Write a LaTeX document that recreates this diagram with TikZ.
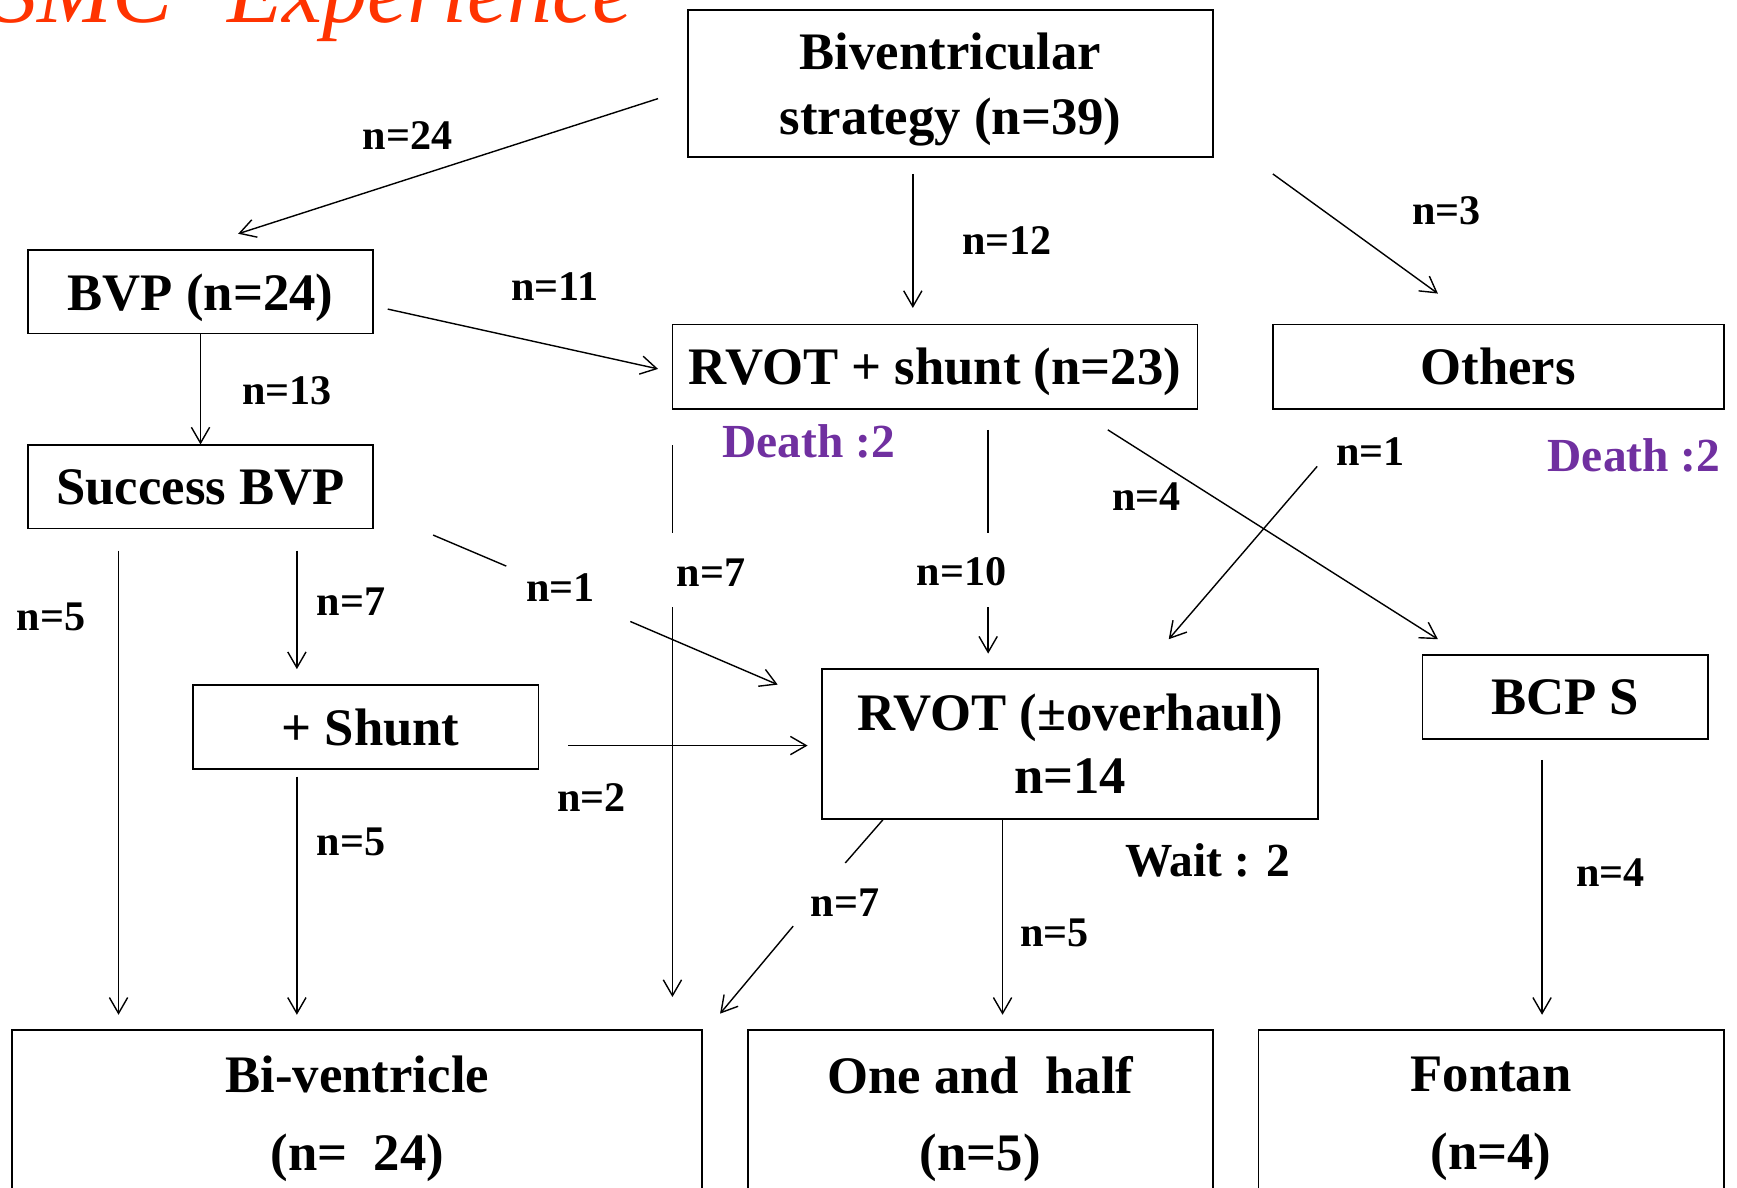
\documentclass[tikz,border=0pt]{standalone}
\usepackage{fontspec}
\setmainfont{Liberation Serif}
\usetikzlibrary{arrows.meta}
\newcommand\pxu{0.011078cm}
\definecolor{deathpurple}{HTML}{7030A0}
\definecolor{titlered}{HTML}{FF3300}
\begin{document}
\begin{tikzpicture}[x=0.011078cm,y=-0.011078cm,
  box/.style={draw, line width=0.5pt, inner sep=0pt, align=center, text depth=0pt,
    font=\fontsize{15}{18.3}\selectfont\bfseries},
  endbox/.style={box, font=\fontsize{15}{22}\selectfont\bfseries,
    minimum width=#1*\pxu, minimum height=150*\pxu},
  lbl/.style={inner sep=0pt, font=\fontsize{12}{14}\selectfont\bfseries},
  note/.style={inner sep=0pt, font=\fontsize{13.5}{16}\selectfont\bfseries},
  arr/.style={line width=0.4pt, -{Straight Barb[length=4.5pt,width=5.2pt]}},
  seg/.style={line width=0.4pt},
  titletext/.style={anchor=base west, inner sep=0pt, text=titlered,
    font=\fontsize{25.6}{30}\selectfont\itshape}]
\useasboundingbox (0,0) rectangle (1568,1072);
\clip (0,0) rectangle (1568,1072);

% heading
\node[titletext] (ttlA) at (-7,20) {SMC};
\node[titletext] (ttlB) at (205,20) {Experience};

% boxes
\node[box, minimum width=474*\pxu, minimum height=133*\pxu] (biv) at (858,75.5) {Biventricular\\strategy (n=39)};
\node[box, minimum width=312*\pxu, minimum height=75*\pxu] (bvp) at (181,263.5) {BVP (n=24)};
\node[box, minimum width=474*\pxu, minimum height=76*\pxu] (rvs) at (844,331) {RVOT + shunt (n=23)};
\node[box, minimum width=407*\pxu, minimum height=76*\pxu] (oth) at (1352.5,331) {Others};
\node[box, minimum width=312*\pxu, minimum height=75*\pxu] (succ) at (181,439.5) {Success BVP};
\node[box, minimum width=312*\pxu, minimum height=76*\pxu] (shunt) at (330,656) {\hspace{0.1cm}+ Shunt};
\node[box, minimum width=448*\pxu, minimum height=135*\pxu, font=\fontsize{15}{18}\selectfont\bfseries] (rvot) at (966,671.5) {RVOT (\textpm overhaul)\\n=14};
\node[box, minimum width=258*\pxu, minimum height=76*\pxu] (bcps) at (1413,629) {BCP S};
\node[endbox=623] (biv2) at (322.5,1005) {Bi-ventricle\\(n=\ \ 24)};
\node[endbox=420] (onehalf) at (885,1005) {One and\ \ half\\(n=5)};
\node[endbox=420] (fontan) at (1346,1005) {Fontan\\(n=4)};

% connector end points
\coordinate (a1) at (594,89);    \coordinate (a2) at (215,211);
\coordinate (b1) at (824,157);   \coordinate (b2) at (824,278);
\coordinate (c1) at (1149,157);  \coordinate (c2) at (1298,265);
\coordinate (d1) at (350,279);   \coordinate (d2) at (594,333);
\coordinate (e1) at (107,497);   \coordinate (e2) at (107,916);
\coordinate (f1) at (268,497);   \coordinate (f2) at (268,604);
\coordinate (g1) at (391,483);   \coordinate (g2) at (457,511);
\coordinate (g3) at (569,561);   \coordinate (g4) at (702,618);
\coordinate (h1) at (607,402);   \coordinate (h2) at (607,481);
\coordinate (h3) at (607,548);   \coordinate (h4) at (607,900);
\coordinate (i1) at (892,388);   \coordinate (i2) at (892,481);
\coordinate (i3) at (892,548);   \coordinate (i4) at (892,590);
\coordinate (j1) at (1000,388);  \coordinate (j2) at (1298,577);
\coordinate (k1) at (1189,421);  \coordinate (k2) at (1055,577);
\coordinate (m1) at (513,673);   \coordinate (m2) at (729,673);
\coordinate (p1) at (268,701);   \coordinate (p2) at (268,916);
\coordinate (q1) at (797,740);   \coordinate (q2) at (763,779);
\coordinate (q3) at (716,836);   \coordinate (q4) at (650,915);
\coordinate (r1) at (905,740);   \coordinate (r2) at (905,916);
\coordinate (s1) at (1392,686);  \coordinate (s2) at (1392,916);

% connectors
\draw[arr] (a1) -- (a2);
\draw[arr] (b1) -- (b2);
\draw[arr] (c1) -- (c2);
\draw[arr] (d1) -- (d2);
\draw[arr] (bvp.south) -- (succ.north);
\draw[arr] (e1) -- (e2);
\draw[arr] (f1) -- (f2);
\draw[seg] (g1) -- (g2);
\draw[arr] (g3) -- (g4);
\draw[seg] (h1) -- (h2);
\draw[arr] (h3) -- (h4);
\draw[seg] (i1) -- (i2);
\draw[arr] (i3) -- (i4);
\draw[arr] (j1) -- (j2);
\draw[arr] (k1) -- (k2);
\draw[arr] (m1) -- (m2);
\draw[arr] (p1) -- (p2);
\draw[seg] (q1) -- (q2);
\draw[arr] (q3) -- (q4);
\draw[arr] (r1) -- (r2);
\draw[arr] (s1) -- (s2);

% counts
\node[lbl] (n24) at (368,122) {n=24};
\node[lbl] (n12) at (909,217) {n=12};
\node[lbl] (n3) at (1306,190) {n=3};
\node[lbl] (n11) at (501,259) {n=11};
\node[lbl] (n13) at (259,353) {n=13};
\node[lbl] (n5a) at (46,557) {n=5};
\node[lbl] (n7a) at (317,543) {n=7};
\node[lbl] (n1a) at (506,530) {n=1};
\node[lbl] (n7b) at (642,517) {n=7};
\node[lbl] (n10) at (868,516) {n=10};
\node[lbl] (n4a) at (1035,448) {n=4};
\node[lbl] (n1b) at (1237,408) {n=1};
\node[lbl] (n2) at (534,720) {n=2};
\node[lbl] (n5b) at (317,760) {n=5};
\node[lbl] (n7c) at (763,815) {n=7};
\node[lbl] (n5c) at (952,842) {n=5};
\node[lbl] (n4b) at (1454,788) {n=4};

% outcome notes
\node[note, text=deathpurple] (deathA) at (730,398) {Death :2};
\node[note, text=deathpurple] (deathB) at (1475,411) {Death :2};
\node[note] (wait) at (1090,777) {Wait : 2};
\end{tikzpicture}
\end{document}
